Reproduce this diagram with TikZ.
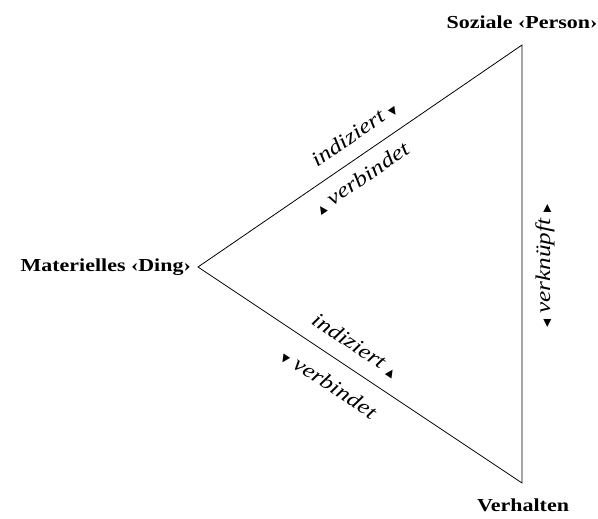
\documentclass[tikz,border=0pt]{standalone}
\usepackage{fontspec}
\setmainfont{Liberation Serif}[FakeStretch=1.2]
\newfontfamily\symfont{DejaVu Sans}
\newcommand{\dn}{{\symfont\fontsize{10.5}{10}\selectfont ▼}}
\newcommand{\up}{{\symfont\fontsize{10.5}{10}\selectfont ▲}}
\newcommand{\lf}{{\symfont\fontsize{10.5}{10}\selectfont ◀}}
\newcommand{\rt}{{\symfont\fontsize{10.5}{10}\selectfont ▶}}
\begin{document}
\begin{tikzpicture}[x=1pt,y=-1pt,
  vlabel/.style={font=\fontsize{18.3}{20}\selectfont\bfseries, inner sep=0pt},
  elabel/.style={font=\fontsize{21}{23}\selectfont\itshape, inner sep=0pt},
  edge/.style={draw=black, line width=0.8pt}]
\useasboundingbox (0,0) rectangle (598,519);
\coordinate (M) at (198,267);
\coordinate (S) at (522,45);
\coordinate (V) at (522,483);
\draw[edge] (M) -- (S) -- (V) -- cycle;
\node[vlabel] (ls) at (522,22) {Soziale ‹Person›};
\node[vlabel, anchor=east] (lm) at (191,267) {Materielles ‹Ding›};
\node[vlabel] (lv) at (523,505) {Verhalten};
\node[elabel, rotate=34.4] (t1) at (354,134) {indiziert \dn};
\node[elabel, rotate=34.4] (t2) at (362,178) {\up\ verbindet};
\node[elabel, rotate=-33.7] (b1) at (355,345) {indiziert \up};
\node[elabel, rotate=-33.7] (b2) at (329,384) {\dn\ verbindet};
\node[elabel, rotate=90] (r1) at (545,266) {\lf\ verknüpft \rt};
\end{tikzpicture}
\end{document}
